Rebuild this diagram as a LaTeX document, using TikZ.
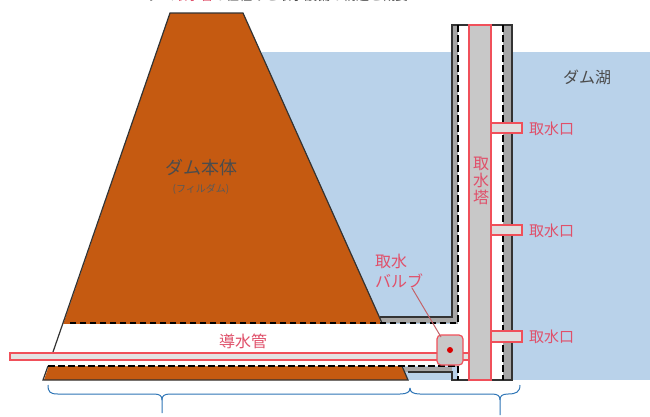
\documentclass[tikz,border=0pt]{standalone}
\usepackage{fontspec}
\newfontfamily\jpfont{Noto Sans CJK JP}
\definecolor{damfill}{HTML}{C55A11}
\definecolor{lakefill}{HTML}{B9D2EA}
\definecolor{wallfill}{HTML}{A6A6A6}
\definecolor{towerfill}{HTML}{C8C8C8}
\definecolor{redline}{HTML}{F0505A}
\definecolor{redtext}{HTML}{E0506A}
\definecolor{bracecol}{HTML}{2E75B6}
\tikzset{
  x=1pt,y=-1pt,
  wall/.style={draw=black!80,line width=1.2pt},
  dashline/.style={draw=black,line width=1.2pt,dash pattern=on 6.5pt off 3.5pt},
  redbox/.style={draw=redline,line width=1.2pt},
  redlabel/.style={text=redtext,font=\jpfont\fontsize{15}{17}\selectfont,inner sep=0pt},
  darklabel/.style={text=black!70,font=\jpfont\fontsize{16}{18}\selectfont,inner sep=0pt},
  bracket/.style={draw=bracecol,line width=1pt}
}
\begin{document}
\begin{tikzpicture}
\useasboundingbox (0,0) rectangle (650,416);
% lake
\fill[lakefill] (262,52) rectangle (650,380);
% dam body
\fill[damfill] (170,13) -- (243,13) -- (408,380) -- (44,380) -- cycle;
% tower casing and culvert chamber
\fill[wallfill] (380,317) rectangle (452,323);
\fill[wallfill] (452,25) rectangle (512,380);
\fill[wallfill] (404,367) rectangle (452,372);
\fill[lakefill] (452,367) rectangle (458,380);
\fill[white] (458,25) rectangle (503,380);
\fill[white] (63,324) -- (458,324) -- (458,366) -- (48,366) -- (53,352) -- cycle;
\draw[wall] (382,323) -- (243,13) -- (170,13) -- (53,352);
\draw[wall] (48,366) -- (43,380) -- (408,380) -- (402,366);
\draw[wall] (380,317) -- (452,317) -- (452,25) -- (512,25) -- (512,380) -- (452,380) -- (452,372) -- (408,372);
% dashed lining
\draw[dashline] (458,25) -- (458,323) -- (66,323);
\draw[dashline] (503,25) -- (503,380);
\draw[dashline] (48,366) -- (458,366) -- (458,380);
% intake tower
\filldraw[towerfill,draw=redline,line width=1.2pt] (469,25) rectangle (491,380);
% intake ports
\filldraw[towerfill!60!white,redbox] (491,123) rectangle (522,133);
\filldraw[towerfill!60!white,redbox] (491,225) rectangle (522,235);
\filldraw[towerfill!60!white,redbox] (491,331) rectangle (522,342);
% culvert and valve
\filldraw[towerfill!50!white,redbox] (10,353) rectangle (469,360);
\filldraw[towerfill,redbox,rounded corners=4pt] (437,335) rectangle (463,365);
\fill[red!85!black] (450,350) circle (3pt);
% labels
\node[darklabel] (lake) at (587,77) {ダム湖};
\node[text=black!70,font=\jpfont\fontsize{18}{20}\selectfont,inner sep=0pt] (body) at (201,168) {ダム本体};
\node[text=black!65,font=\jpfont\fontsize{10}{12}\selectfont,inner sep=0pt] (bodysub) at (201,189) {(フィルダム)};
\node[redlabel,align=center,font=\jpfont\fontsize{16}{17}\selectfont] (tower) at (481,181) {取\\水\\塔};
\node[redlabel,anchor=west] (portone) at (529,129) {取水口};
\node[redlabel,anchor=west] (porttwo) at (529,231) {取水口};
\node[redlabel,anchor=west] (portthree) at (529,337) {取水口};
\node[redlabel,font=\jpfont\fontsize{16}{18}\selectfont] (culvert) at (243,341) {導水管};
\node[redlabel,align=left,font=\jpfont\fontsize{16}{20}\selectfont] (valve) at (399,271) {取水\\バルブ};
\coordinate (valvetop) at (441,337);
\coordinate (valvefoot) at (412,288);
\draw[redline!60!gray,line width=1pt] (valvefoot) -- (valvetop);
% heading, only its lower edge stays on the sheet
\begin{scope}
  \clip (0,0) rectangle (650,416);
  \node[text=black!70,font=\jpfont\fontsize{13}{15}\selectfont,inner sep=0pt] (title) at (278,-4) {ダム\textcolor{redtext}{取水管}の仕組みと取水設備の構造と概要};
\end{scope}
% brackets under the two structures
\draw[bracket] (48,385) .. controls (48,392) and (50,394) .. (58,394) -- (154,394) .. controls (160,394) and (162,396) .. (162,400) -- (162,413);
\draw[bracket] (162,400) .. controls (162,396) and (164,394) .. (170,394) -- (400,394) .. controls (407,394) and (410,392) .. (410,388);
\draw[bracket] (410,388) .. controls (410,392) and (413,394) .. (420,394) -- (492,394) .. controls (498,394) and (500,396) .. (500,400) -- (500,415);
\draw[bracket] (500,400) .. controls (500,396) and (502,394) .. (508,394) .. controls (516,394) and (520,392) .. (520,385);
\end{tikzpicture}
\end{document}
